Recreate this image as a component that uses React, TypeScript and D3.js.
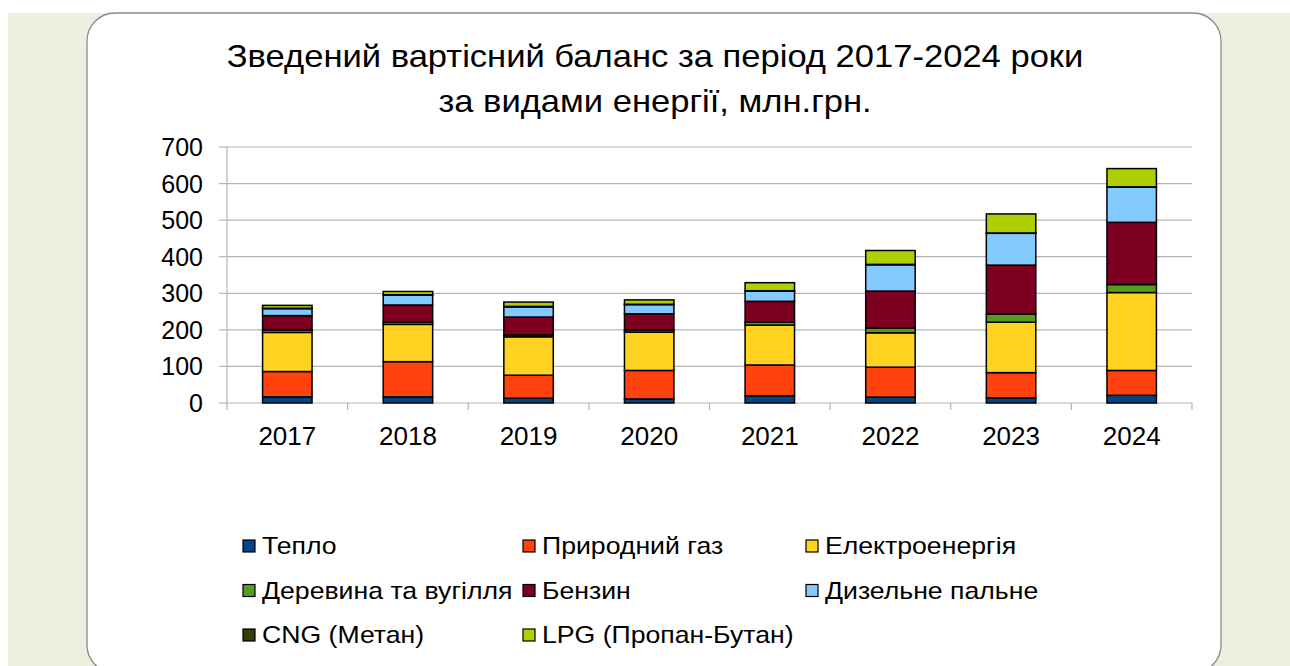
import React, { useMemo } from "react";
import * as d3 from "d3";

const years = ["2017", "2018", "2019", "2020", "2021", "2022", "2023", "2024"];
const teplo = [17, 17, 13, 11, 20, 16, 14, 21];
const gas = [69, 96, 63, 78, 84, 82, 69, 68];
const elec = [107, 102, 105, 105, 109, 94, 138, 213];
const wood = [7, 6, 5, 6, 8, 13, 22, 22];
const benzin = [39, 47, 49, 44, 57, 101, 134, 170];
const diesel = [19, 27, 28, 25, 28, 72, 87, 96];
const cng = [1, 1, 1, 1, 1, 1, 1, 1];
const lpg = [8, 9, 12, 12, 22, 38, 52, 50];

const seriesNames = [
  "Тепло",
  "Природний газ",
  "Електроенергія",
  "Деревина та вугілля",
  "Бензин",
  "Дизельне пальне",
  "CNG (Метан)",
  "LPG (Пропан-Бутан)",
];
const seriesValues = [teplo, gas, elec, wood, benzin, diesel, cng, lpg];
const colors = ["#004586", "#ff420e", "#ffd320", "#579d1c", "#7e0021", "#83caff", "#314004", "#aecf00"];
const yTicks = [0, 100, 200, 300, 400, 500, 600, 700];

const W = 1290;
const H = 666;
const margin = { left: 227, right: 1192, top: 147, bottom: 403 };
const FONT = "'Liberation Sans', Arial, sans-serif";

export default function App() {
  const rows = useMemo(
    () =>
      years.map((y, i) => {
        const r: any = { year: y };
        seriesNames.forEach((k, j) => (r[k] = seriesValues[j][i]));
        return r;
      }),
    []
  );
  const stacked = useMemo(() => d3.stack().keys(seriesNames)(rows), [rows]);

  const x = d3.scaleBand().domain(years).range([margin.left, margin.right]);
  const y = d3.scaleLinear().domain([0, 700]).range([margin.bottom, margin.top]);
  const barW = x.bandwidth() * 0.41;

  // legend: 3 columns, 3 rows
  const legCols = [243, 523, 806];
  const legRows = [554, 598.5, 643];

  return (
    <svg width={W} height={H} style={{ position: "absolute", left: 0, top: 0 }}>
      <rect x={0} y={0} width={W} height={H} fill="#ffffff" />
      <rect x={8} y={13} width={W - 8} height={H - 13} fill="#ebf1de" />
      <rect x={87} y={13} width={1134} height={660} rx={28} ry={28} fill="#ffffff" stroke="#8a8a8a" strokeWidth={1.3} />

      <g fontFamily={FONT} fill="#000" textAnchor="middle" fontSize={32} transform="translate(655,0) scale(1.08,1)">
        <text x={0} y={67}>Зведений вартісний баланс за період 2017-2024 роки</text>
        <text x={0} y={112}>за видами енергії, млн.грн.</text>
      </g>

      <g className="grid">
        {yTicks.map((t) => (
          <line key={t} x1={margin.left} x2={margin.right} y1={y(t)} y2={y(t)} stroke="#b3b3b3" strokeWidth={1.2} />
        ))}
      </g>

      <g className="axes" stroke="#b3b3b3" strokeWidth={1.2}>
        <line x1={margin.left} x2={margin.left} y1={margin.top} y2={margin.bottom + 7} />
        {yTicks.map((t) => (
          <line key={t} x1={margin.left - 8} x2={margin.left} y1={y(t)} y2={y(t)} />
        ))}
        {years.map((yr) => (
          <line key={yr} x1={(x(yr) as number) + x.bandwidth()} x2={(x(yr) as number) + x.bandwidth()} y1={margin.bottom} y2={margin.bottom + 7} />
        ))}
      </g>

      <g className="bars">
        {stacked.map((s, si) =>
          s.map((d, i) => (
            <rect
              key={si + "-" + i}
              x={(x(years[i]) as number) + x.bandwidth() / 2 - barW / 2}
              y={y(d[1])}
              width={barW}
              height={y(d[0]) - y(d[1])}
              fill={colors[si]}
              stroke="#000"
              strokeWidth={1.5}
            />
          ))
        )}
      </g>

      <g fontFamily={FONT} fontSize={25} fill="#000">
        {yTicks.map((t) => (
          <text key={t} x={203} y={y(t) + 9} textAnchor="end">
            {t}
          </text>
        ))}
        {years.map((yr) => (
          <text key={yr} x={(x(yr) as number) + x.bandwidth() / 2} y={445} textAnchor="middle" fontSize={26}>
            {yr}
          </text>
        ))}
      </g>

      <g fontFamily={FONT} fontSize={24} fill="#000">
        {seriesNames.map((n, i) => {
          const cx = legCols[i % 3];
          const cy = legRows[Math.floor(i / 3)];
          return (
            <g key={n}>
              <rect x={cx} y={cy - 14} width={12} height={12} fill={colors[i]} stroke="#000" strokeWidth={1.2} />
              <text transform={`translate(${cx + 19},${cy}) scale(1.11,1)`}>{n}</text>
            </g>
          );
        })}
      </g>
    </svg>
  );
}
